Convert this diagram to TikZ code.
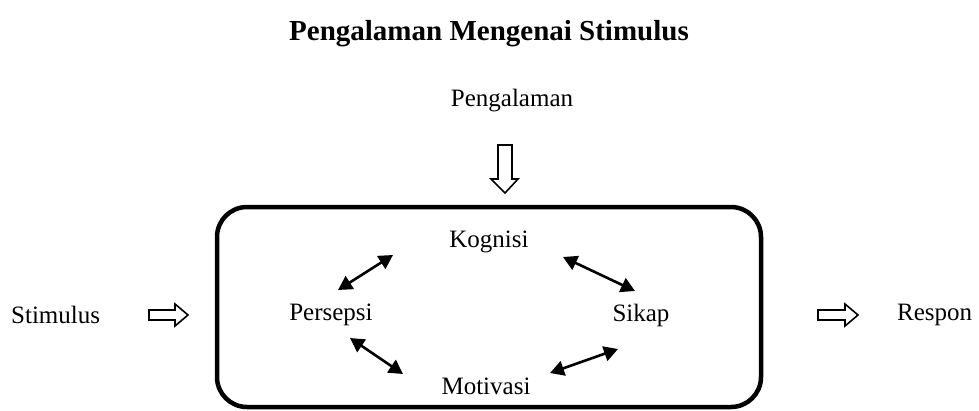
\documentclass[tikz,border=0pt]{standalone}
\usepackage{fontspec}
\setmainfont{Liberation Serif}
\usetikzlibrary{arrows.meta}
\begin{document}
\begin{tikzpicture}[x=1pt,y=-1pt,
  lbl/.style={inner sep=0pt,font=\fontsize{25}{28}\selectfont},
  dbl/.style={line width=2.6pt,{Triangle[length=14pt,width=15pt]}-{Triangle[length=14pt,width=15pt]}},
  blk/.style={draw,line width=1.6pt,line join=miter,fill=white}]
\useasboundingbox (0,0) rectangle (979,410);
\node[font=\bfseries\fontsize{29}{32}\selectfont,inner sep=0pt] (title) at (489,34) {Pengalaman Mengenai Stimulus};
\node[lbl] (peng) at (512,101) {Pengalaman};
\node[lbl,anchor=west] (stim) at (11,315) {Stimulus};
\node[lbl,anchor=west] (resp) at (897,315) {Respon};
\draw[line width=4.5pt,rounded corners=30pt] (217,207) rectangle (761,407);
\node[lbl] (kog) at (489,242) {Kognisi};
\node[lbl] (pers) at (331,315) {Persepsi};
\node[lbl] (sik) at (641,315) {Sikap};
\node[lbl] (mot) at (486,386) {Motivasi};
% block arrows
\draw[blk] (498,145) -- (512,145) -- (512,179) -- (518,179) -- (505,193) -- (491,179) -- (498,179) -- cycle;
\draw[blk] (149,310) -- (175,310) -- (175,304) -- (188,315) -- (175,326) -- (175,320) -- (149,320) -- cycle;
\draw[blk] (818,310) -- (845,310) -- (845,304) -- (858,315) -- (845,326) -- (845,320) -- (818,320) -- cycle;
% double arrows
\coordinate (a1) at (338,290); \coordinate (b1) at (393,255);
\coordinate (a2) at (563,257); \coordinate (b2) at (635,291);
\coordinate (a3) at (350,338); \coordinate (b3) at (403,374);
\coordinate (a4) at (550,373); \coordinate (b4) at (618,349);
\draw[dbl] (a1) -- (b1);
\draw[dbl] (a2) -- (b2);
\draw[dbl] (a3) -- (b3);
\draw[dbl] (a4) -- (b4);
\end{tikzpicture}
\end{document}
